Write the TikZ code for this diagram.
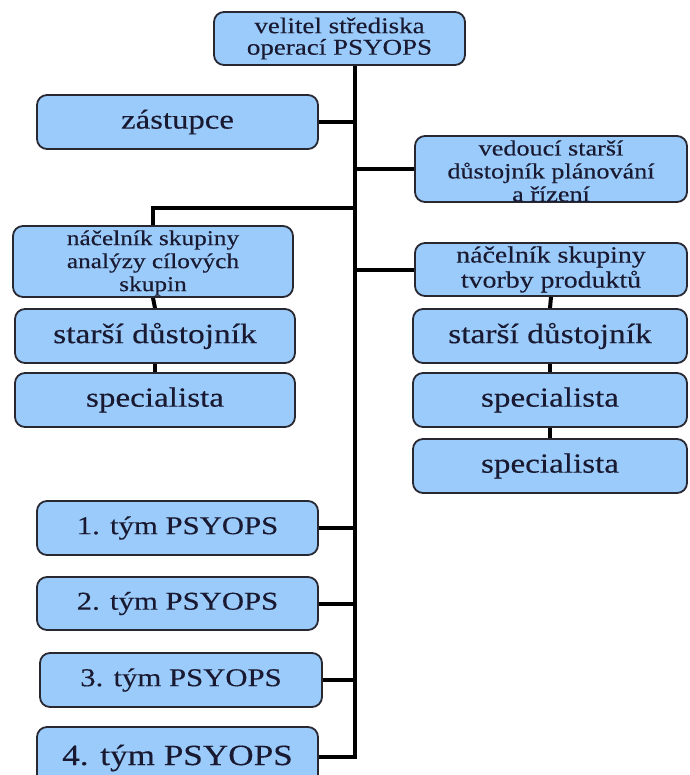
\documentclass[tikz,border=0pt]{standalone}
\usepackage{fontspec}
\setmainfont{Liberation Serif}[FakeStretch=1.2, FakeBold=0.3]
\usetikzlibrary{backgrounds}
\definecolor{boxfill}{RGB}{155,203,250}
\definecolor{boxline}{RGB}{40,40,50}
\definecolor{ink}{RGB}{25,25,50}
\newcommand\txtsize[2]{\fontsize{#1}{#2}\selectfont}
\tikzset{
  box/.style={draw=boxline, line width=1.8pt, fill=boxfill, rounded corners=10pt, inner sep=0pt},
  lbl/.style={inner sep=0pt, align=center, text=ink},
  link/.style={draw=black, line width=4pt}
}
\begin{document}
\begin{tikzpicture}[x=1pt,y=-1pt]
\useasboundingbox (0,0) rectangle (689,775);

% boxes
\node[box, minimum width=251pt, minimum height=53pt] (top) at (339.5,38.5) {};
\node[box, minimum width=281pt, minimum height=54pt] (zast) at (177.5,122) {};
\node[box, minimum width=272pt, minimum height=66pt] (ved) at (551,169) {};
\node[box, minimum width=272pt, minimum height=53pt] (tvo) at (551,269.5) {};
\node[box, minimum width=280pt, minimum height=71pt] (ana) at (153,261.5) {};
\node[box, minimum width=280pt, minimum height=54pt] (sdL) at (155,336) {};
\node[box, minimum width=280pt, minimum height=54pt] (spL) at (155,400) {};
\node[box, minimum width=274pt, minimum height=54pt] (sdR) at (550,336) {};
\node[box, minimum width=274pt, minimum height=54pt] (spRa) at (550,400) {};
\node[box, minimum width=274pt, minimum height=54pt] (spRb) at (550,466) {};
\node[box, minimum width=281pt, minimum height=54pt] (t1) at (177.5,528) {};
\node[box, minimum width=281pt, minimum height=53pt] (t2) at (177.5,603.5) {};
\node[box, minimum width=282pt, minimum height=54pt] (t3) at (181,680) {};
\node[box, minimum width=281pt, minimum height=60pt] (t4) at (177.5,757) {};

% texts
\node[lbl, font=\txtsize{22.5}{21.5}] (top-t) at (top) {velitel střediska\\operací PSYOPS};
\node[lbl, font=\txtsize{27.3}{28}] (zast-t) at (zast) {zástupce};
\node[lbl, font=\txtsize{21.8}{23}] (ved-t) at (551,171) {vedoucí starší\\důstojník plánování\\a řízení};
\node[lbl, font=\txtsize{23.2}{25}] (tvo-t) at (tvo) {náčelník skupiny\\tvorby produktů};
\node[lbl, font=\txtsize{21.1}{23}] (ana-t) at (153,263) {náčelník skupiny\\analýzy cílových\\skupin};
\node[lbl, font=\txtsize{27.9}{28}] (sdL-t) at (sdL) {starší důstojník};
\node[lbl, font=\txtsize{27.6}{28}] (spL-t) at (spL) {specialista};
\node[lbl, font=\txtsize{27.9}{28}] (sdR-t) at (sdR) {starší důstojník};
\node[lbl, font=\txtsize{27.6}{28}] (spRa-t) at (spRa) {specialista};
\node[lbl, font=\txtsize{27.6}{28}] (spRb-t) at (spRb) {specialista};
\node[lbl, font=\txtsize{25.6}{27}] (t1-t) at (t1) {1. tým PSYOPS};
\node[lbl, font=\txtsize{25.6}{27}] (t2-t) at (t2) {2. tým PSYOPS};
\node[lbl, font=\txtsize{25.6}{27}] (t3-t) at (t3) {3. tým PSYOPS};
\node[lbl, font=\txtsize{29.3}{30}] (t4-t) at (177.5,758) {4. tým PSYOPS};

% spine and junctions
\coordinate (s0) at (355,65);
\coordinate (jL) at (355,208);

\begin{pgfonlayer}{background}
  \fill[white] (0,0) rectangle (689,775);
  \draw[link] (s0) |- (t4.east);
  \draw[link] (zast.east) -- (zast.east -| s0);
  \draw[link] (ved.west) -- (ved.west -| s0);
  \draw[link] (tvo.west) -- (tvo.west -| s0);
  \draw[link] (jL) -| (ana.north);
  \draw[link] (ana.south) -- (sdL.north);
  \draw[link] (sdL.south) -- (spL.north);
  \draw[link] (tvo.south) -- (sdR.north);
  \draw[link] (sdR.south) -- (spRa.north);
  \draw[link] (spRa.south) -- (spRb.north);
  \draw[link] (t1.east) -- (t1.east -| s0);
  \draw[link] (t2.east) -- (t2.east -| s0);
  \draw[link] (t3.east) -- (t3.east -| s0);
\end{pgfonlayer}
\end{tikzpicture}
\end{document}
